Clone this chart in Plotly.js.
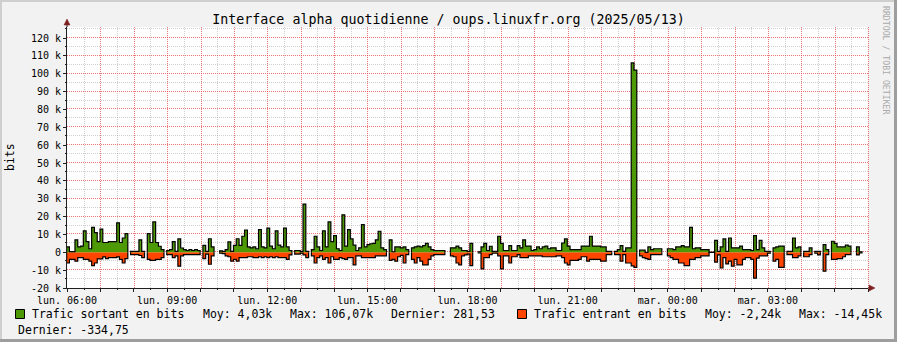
<!DOCTYPE html>
<html><head><meta charset="utf-8">
<script src="https://cdn.plot.ly/plotly-3.0.1.min.js"></script>
<style>html,body{margin:0;padding:0;background:#F2F2F2;}#chart{width:897px;height:342px;}</style>
</head><body><div id="chart"></div>
<script>
// ---- data (values in k bits, one value per 5-minute step, null = unknown) ----
const titleText = 'Interface alpha quotidienne / oups.linuxfr.org (2025/05/13)';
const seriesNames = ['Trafic sortant en bits', 'Trafic entrant en bits'];
const outStats = ['Moy: 4,03k', 'Max: 106,07k', 'Dernier: 281,53'];
const inStats = ['Moy: -2,24k', 'Max: -14,45k', 'Dernier: -334,75'];
const xTickLabels = ['lun. 06:00','lun. 09:00','lun. 12:00','lun. 15:00','lun. 18:00','lun. 21:00','mar. 00:00','mar. 03:00'];
const yTickValues = [-20,-10,0,10,20,30,40,50,60,70,80,90,100,110,120];
const yTickLabels = ['-20 k','-10 k','0','10 k','20 k','30 k','40 k','50 k','60 k','70 k','80 k','90 k','100 k','110 k','120 k'];
const yMinorValues = [-15,-5,5,15,25,35,45,55,65,75,85,95,105,115,125];
const startTime = Date.UTC(2025,4,12,6,0,0);
const stepSeconds = 300;

const outK = [
3,0.4,0.4,7,3,3.5,12,6,2,14,
11,6,13,5.5,5.5,6,6,6,16.5,5.5,
8,10.5,null,0.5,0.5,0.5,7,0.5,null,10.5,
5.5,17,5.5,3.4,1.5,null,1,1.5,6,0.5,
7.5,2.4,1.5,1,1.5,1,1.5,1,null,3.9,
0.5,7.6,3,null,null,0.8,0.5,1.5,5.8,0.5,
3.9,7.6,3.9,9,12.5,3,2.5,3,2,12.7,
3,2.5,13.5,3.5,2,12,4,3,13.5,3,
1,null,1,1,0.5,27,0.5,null,1.5,9,
3,1,12,3,17,6,9.3,2,1,21,
3.5,12.7,7.5,4,1,2.5,15.5,3,4.3,4.8,
5,7,11.8,2.5,1.5,null,7,0.3,3,3,
2.5,3,1.5,null,2.5,3,3.5,3,3.7,5,
3,1.5,1,1,1,1,null,null,2.5,2.5,
3.5,2.5,1,1,0.5,5,null,null,0.3,3,
5,1,3.4,0.5,0.5,9,5,1,1,3.7,
1,1,3.7,2.5,7,3.5,3.5,1,1.5,3,
2,3,3.5,2,2.5,2.5,1,1,5.2,7.5,
3.5,1.5,1.5,1.5,1.5,3.5,3.5,3.5,9,3.5,
3.5,3.5,3,3,0.5,0.5,null,0.5,1.5,3.7,
0.5,2.5,2.5,106.07,102,null,1.2,1.2,0,3,
1.5,2,2,2,null,null,2,2,1.5,3,
3,3.7,3,3,14,2,2.5,2.5,1.5,1.5,
1.5,0,0,6.7,0.5,3,7.5,0.5,8,2.5,
2.5,2.5,3.5,1.5,1.5,1.5,1,9.3,1.5,6.7,
2.5,0.5,0.5,null,2.5,3,3.5,3.5,null,0.5,
0.5,8,2.5,3,null,0.5,0.5,2.5,null,0.5,
0.5,null,4.3,1.5,null,6.2,5,3,3,3,
4,3.5,null,null,3,0.28,null,null
];
const inK = [
-6,-4,-4,-5,-3,-3,-4,-4,-5,-7.5,
-6,-3.7,-3.7,-2.6,-3.5,-3,-3,-3,-2.6,-4,
-6,-3.5,null,-1.3,-1.3,-1.3,-1.8,-3,null,-4,
-4.5,-4.5,-4,-4,-3,null,-1.3,-1.3,-3,-2,
-7.8,-2,-1.3,-1.3,-1.3,-1.3,-1.3,-1.3,null,-3.5,
-1,-6.7,-2,null,null,-0.5,-0.8,-2,-2.5,-5,
-4,-5,-3,-3,-3,-2.5,-2.5,-3,-3,-2.5,
-3,-2.5,-3,-2.5,-3,-2.5,-3,-3,-3,-4,
-1.5,null,-1,-1,-0.5,-1.5,-3,null,-2,-6,
-3,-2,-4,-3,-6,-2.5,-4,-4,-3,-3.5,
-4,-3,-3,-7,-2,-2,-3,-3,-3,-3,
-3,-2,-2,-2,-2,null,-4.5,-4,-5,-2.5,
-1.7,-6,-1.3,null,-4,-6,-3,-5,-7,-7,
-4,-2,-1.3,-1.3,-1.3,-1.3,null,null,-2,-2.5,
-6,-7,-2,-1.5,-1,-7.5,null,null,-0.3,-9.3,
-3,-3,-1.3,-0.5,-0.5,-2,-9.3,-2,-2,-6,
-2.5,-2.5,-1.3,-3,-3,-3,-2,-2,-2,-2,
-2,-2.5,-2.5,-2.5,-2.5,-2.5,-2,-2,-3,-6,
-7,-4.5,-4.5,-4.5,-4,-2.5,-2.5,-5,-4,-4,
-4,-4,-5,-5,-1.3,-1.3,null,-1.3,-1.3,-5,
-1.3,-6,-6,-7.6,-8.5,null,-2,-3,-3.5,-4,
-1.3,-1.3,-1.3,-1.3,null,null,-2,-3,-4,-4,
-6,-6,-7.5,-7.5,-4,-4,-3,-3,-2,-2,
-2,0,0,-5.5,-1.5,-8.8,-3,-6.5,-5,-7.8,
-4,-7,-7,-4,-3,-3,-4,-14.45,-3.3,-2,
-2,-2,-0.5,null,-5,-4,-8.5,-8.5,null,-1.3,
-1.3,-3,-3,-2,null,-2.5,-2.5,-1.3,null,-0.5,
-1.5,null,-10.6,-1.3,null,-4,-4,-3.5,-3.5,-2.5,
-1.3,-1.3,null,null,-1.5,-0.33,null,null
];

// ---- styling ----
const GREEN = '#4E9A06', RED = '#FF4500';
const MONO = 'DejaVu Sans Mono';
const W = 897, H = 342, L = 67, R = 868, T = 27, B = 288;
const X_RANGE = [startTime, startTime + 86400000], Y_RANGE = [-20, 126.2];
const px = x => (x - L) / (R - L);
const py = y => (B - y) / (B - T);
const gx = t => px(Math.round(L + (t - X_RANGE[0]) / (X_RANGE[1] - X_RANGE[0]) * (R - L)) + 0.5);
const gy = v => py(Math.round(B - (v - Y_RANGE[0]) / (Y_RANGE[1] - Y_RANGE[0]) * (B - T)) - 0.5);

function tAt(i){ return startTime + i * stepSeconds * 1000 - 40000; }
function steps(vals){
  const xs = [], ys = [];
  for (let i = 0; i < vals.length; i++){
    const v = vals[i];
    if (v === null){ xs.push(tAt(i)); ys.push(null); continue; }
    if (i === 0 || vals[i-1] === null){ xs.push(tAt(i)); ys.push(0); }
    xs.push(tAt(i)); ys.push(v);
    if (i === vals.length-1 || vals[i+1] === null){ xs.push(tAt(i+1)); ys.push(v); xs.push(tAt(i+1)); ys.push(0); }
  }
  return {xs, ys};
}
const so = steps(outK), si = steps(inK);
const traces = [
  {x: si.xs, y: si.ys, type:'scatter', mode:'lines', line:{shape:'hv', color:'#000', width:1.2}, fill:'tozeroy', fillcolor:RED, connectgaps:false, hoverinfo:'skip', showlegend:false},
  {x: so.xs, y: so.ys, type:'scatter', mode:'lines', line:{shape:'hv', color:'#000', width:1.2}, fill:'tozeroy', fillcolor:GREEN, connectgaps:false, hoverinfo:'skip', showlegend:false}
];

const hourVals = [], hourText = [], halfVals = [];
for (let h = 0; h <= 24; h++){
  hourVals.push(startTime + h*3600000);
  hourText.push(h % 3 === 0 && h < 24 ? xTickLabels[h/3] : '');
  if (h < 24) halfVals.push(startTime + h*3600000 + 1800000);
}

const MGRID = 'rgba(230,60,60,0.7)', GRID = 'rgba(150,150,150,0.45)';
const DOT = '1px,1px';
const shapes = [];
halfVals.forEach(v => shapes.push({type:'line', layer:'below', xref:'paper', yref:'paper', x0:gx(v), x1:gx(v), y0:0, y1:1, line:{color:GRID, width:1, dash:DOT}}));
yMinorValues.forEach(v => shapes.push({type:'line', layer:'below', xref:'paper', yref:'paper', x0:0, x1:1, y0:gy(v), y1:gy(v), line:{color:GRID, width:1, dash:DOT}}));
hourVals.slice(1).forEach(v => shapes.push({type:'line', layer:'below', xref:'paper', yref:'paper', x0:gx(v), x1:gx(v), y0:0, y1:1, line:{color:MGRID, width:1, dash:DOT}}));
yTickValues.slice(1).forEach(v => shapes.push({type:'line', layer:'below', xref:'paper', yref:'paper', x0:0, x1:1, y0:gy(v), y1:gy(v), line:{color:MGRID, width:1, dash:DOT}}));
halfVals.forEach(v => shapes.push({type:'line', xref:'paper', yref:'paper', x0:gx(v), x1:gx(v), y0:0, y1:py(290), line:{color:'#1F1F1F', width:1}}));
yMinorValues.forEach(v => shapes.push({type:'line', xref:'paper', yref:'paper', x0:px(65), x1:0, y0:gy(v), y1:gy(v), line:{color:'#1F1F1F', width:1}}));
shapes.push(
  {type:'rect', xref:'paper', yref:'paper', x0:px(0), x1:px(W), y0:py(0), y1:py(2), fillcolor:'#CFCFCF', line:{width:0}, layer:'below'},
  {type:'rect', xref:'paper', yref:'paper', x0:px(0), x1:px(2), y0:py(0), y1:py(H), fillcolor:'#CFCFCF', line:{width:0}, layer:'below'},
  {type:'rect', xref:'paper', yref:'paper', x0:px(W-3), x1:px(W), y0:py(0), y1:py(H), fillcolor:'#9E9E9E', line:{width:0}, layer:'below'},
  {type:'rect', xref:'paper', yref:'paper', x0:px(0), x1:px(W), y0:py(H-3), y1:py(H), fillcolor:'#9E9E9E', line:{width:0}, layer:'below'},
  {type:'line', xref:'paper', yref:'paper', x0:0, x1:0, y0:1, y1:py(22), line:{color:'#1F1F1F', width:1}},
  {type:'line', xref:'paper', yref:'paper', x0:1, x1:px(872), y0:0, y1:0, line:{color:'#1F1F1F', width:1}},
  {type:'path', xref:'paper', yref:'paper', path:`M ${px(64)} ${py(25)} L ${px(70)} ${py(25)} L ${px(67)} ${py(19)} Z`, fillcolor:'#7F1F1F', line:{color:'#7F1F1F', width:0.5}},
  {type:'path', xref:'paper', yref:'paper', path:`M ${px(869)} ${py(285)} L ${px(869)} ${py(291)} L ${px(875)} ${py(288)} Z`, fillcolor:'#7F1F1F', line:{color:'#7F1F1F', width:0.5}},
  {type:'rect', xref:'paper', yref:'paper', x0:px(15.5), x1:px(24.5), y0:py(309.5), y1:py(318.5), fillcolor:GREEN, line:{color:'#000', width:1}},
  {type:'rect', xref:'paper', yref:'paper', x0:px(517.5), x1:px(526.5), y0:py(309.5), y1:py(318.5), fillcolor:RED, line:{color:'#000', width:1}}
);

const legFont = {family:MONO, size:11.5, color:'#000'};
function ann(text, x, y, opts){ return Object.assign({text, xref:'paper', yref:'paper', x:px(x), y:py(y), xanchor:'left', yanchor:'middle', showarrow:false, font:legFont}, opts||{}); }
const annotations = [
  ann(seriesNames[0], 29.5, 314),
  ann(outStats[0], 200.5, 314),
  ann(outStats[1], 287.5, 314),
  ann(outStats[2], 388.5, 314),
  ann(seriesNames[1], 531.5, 314),
  ann(inStats[0], 702.5, 314),
  ann(inStats[1], 796.5, 314),
  ann(inStats[2], 15.5, 330),
  ann('bits', 10, 157, {xanchor:'center', textangle:-90}),
  ann('RRDTOOL / TOBI OETIKER', 886, 60, {xanchor:'center', textangle:90, font:{family:MONO, size:8.2, color:'#AAAAAA'}})
];

const layout = {
  width:W, height:H, margin:{l:L, r:W-R, t:T, b:H-B, pad:0},
  paper_bgcolor:'#F2F2F2', plot_bgcolor:'#FFFFFF',
  title:{text:titleText, font:{family:MONO, size:13.3, color:'#000'}, x:0.5, xref:'container', xanchor:'center', y:1-19/H, yref:'container', yanchor:'middle'},
  xaxis:{type:'date', range:X_RANGE, tickmode:'array', tickvals:hourVals, ticktext:hourText,
    showgrid:false, ticks:'outside', ticklen:3, tickcolor:'#1F1F1F',
    showline:true, linecolor:'#1F1F1F', linewidth:1, zeroline:false, tickfont:{family:MONO, size:10, color:'#000'}},
  yaxis:{range:Y_RANGE, tickmode:'array', tickvals:yTickValues, ticktext:yTickLabels,
    showgrid:false, ticks:'outside', ticklen:3, tickcolor:'#1F1F1F',
    showline:true, linecolor:'#1F1F1F', linewidth:1, zeroline:false, tickfont:{family:MONO, size:10, color:'#000'}},
  shapes, annotations, showlegend:false
};
Plotly.newPlot('chart', traces, layout, {staticPlot:true, displayModeBar:false});
</script></body></html>
